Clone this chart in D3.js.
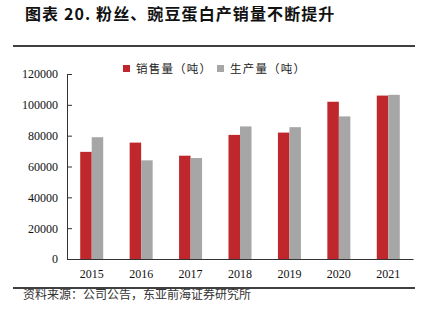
<!DOCTYPE html>
<html><head><meta charset="utf-8">
<script src="https://cdn.jsdelivr.net/npm/d3@7"></script>
<style>body{margin:0;background:#fff;}svg{display:block;}</style>
</head><body>
<script>
const categories = ["2015","2016","2017","2018","2019","2020","2021"];
const seriesNames = ["销售量（吨）","生产量（吨）"];
const sales = [69500, 75500, 67000, 80500, 82000, 102000, 106000];
const production = [79000, 64000, 65500, 86000, 85500, 92500, 106500];
const yTicks = [0,20000,40000,60000,80000,100000,120000];
const colors = ["#C0272D","#A6A6A6"];

const W=426,H=321;
const svg=d3.select("body").append("svg").attr("width",W).attr("height",H);

svg.append("text").attr("x",25).attr("y",20)
  .attr("font-family","'Noto Sans CJK SC',sans-serif").attr("font-weight","bold")
  .attr("font-size",16).attr("fill","#111").attr("letter-spacing",1.1)
  .text("图表 20. 粉丝、豌豆蛋白产销量不断提升");
svg.append("line").attr("x1",13).attr("x2",415).attr("y1",46).attr("y2",46).attr("stroke","#000").attr("stroke-width",1.5);
svg.append("line").attr("x1",13).attr("x2",415).attr("y1",288).attr("y2",288).attr("stroke","#000").attr("stroke-width",1.5);
svg.append("text").attr("x",23).attr("y",299)
  .attr("font-family","'Noto Sans CJK SC',sans-serif").attr("font-size",12).attr("fill","#333")
  .text("资料来源：公司公告，东亚前海证券研究所");

const x=d3.scaleBand().domain(categories).range([67,413]).padding(0);
const y=d3.scaleLinear().domain([0,120000]).range([259,74]);
const barW=11.5;

const g=svg.append("g");
const data=categories.map((c,i)=>({c,v:[sales[i],production[i]]}));
data.forEach(d=>{
  d.v.forEach((v,j)=>{
    g.append("rect")
      .attr("x",x(d.c)+x.bandwidth()/2-barW+j*barW)
      .attr("y",y(v)).attr("width",barW).attr("height",y(0)-y(v))
      .attr("fill",colors[j]);
  });
});

const yAxis=svg.append("g").attr("transform","translate(67,0)")
  .call(d3.axisLeft(y).tickValues(yTicks).tickSize(-5).tickSizeOuter(0).tickPadding(9).tickFormat(d=>String(d)));
yAxis.select(".domain").attr("stroke","#333");
yAxis.selectAll(".tick line").attr("stroke","#333");
yAxis.selectAll("text").attr("font-family","'Liberation Serif','Times New Roman',serif").attr("font-size",12).attr("fill","#111");

const xAxis=svg.append("g").attr("transform","translate(0,259)")
  .call(d3.axisBottom(x).tickSize(0).tickPadding(10));
xAxis.select(".domain").attr("stroke","#333");
xAxis.selectAll("text").attr("font-family","'Liberation Serif','Times New Roman',serif").attr("font-size",12).attr("fill","#111");

const legX=[123,217];
seriesNames.forEach((n,i)=>{
  svg.append("rect").attr("x",legX[i]).attr("y",65).attr("width",7).attr("height",7).attr("fill",colors[i]);
  svg.append("text").attr("x",legX[i]+13).attr("y",73)
    .attr("font-family","'Noto Sans CJK SC',sans-serif").attr("font-size",11.5).attr("fill","#222")
    .attr("letter-spacing",1.2)
    .text(n);
});
</script>
</body></html>
